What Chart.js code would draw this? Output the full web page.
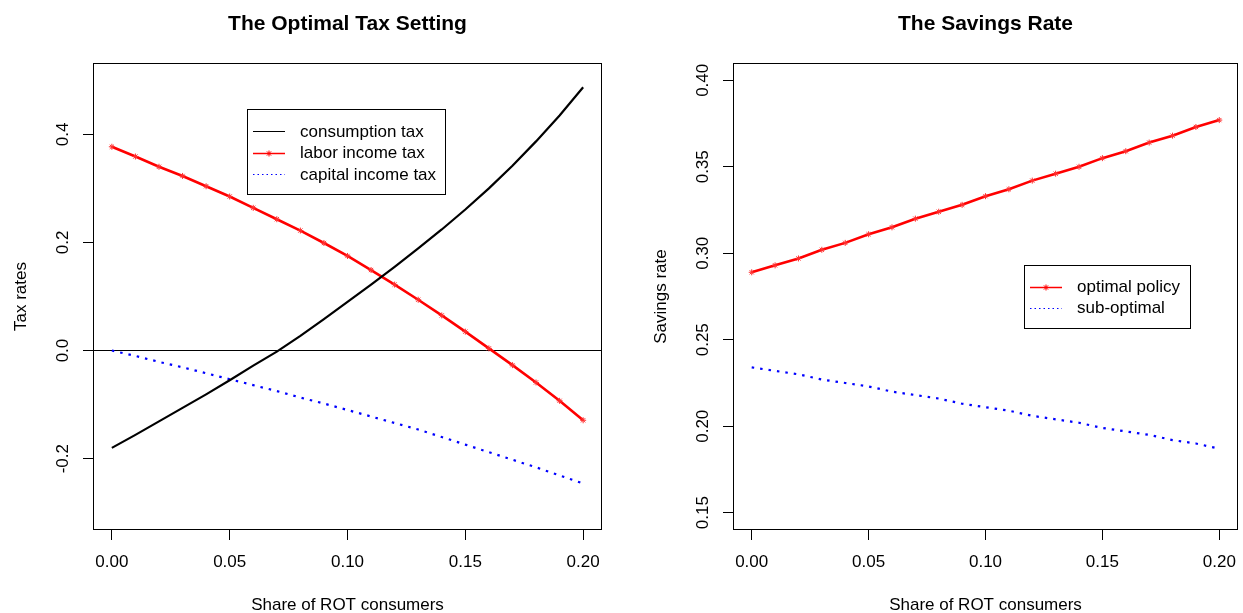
<!DOCTYPE html>
<html><head><meta charset="utf-8">
<script src="https://cdn.jsdelivr.net/npm/chart.js@4.4.1/dist/chart.umd.min.js"></script>
<style>
html,body{margin:0;padding:0;background:#fff;overflow:hidden}
#wrap{position:relative;width:1243px;height:613px;background:#fff}
canvas{position:absolute;top:0}
</style></head><body>
<div id="wrap">
<canvas id="c1" width="621" height="613" style="left:0"></canvas>
<canvas id="c2" width="622" height="613" style="left:621px"></canvas>
</div>
<script>
// ---- data ----
const shareROT = [0.00,0.01,0.02,0.03,0.04,0.05,0.06,0.07,0.08,0.09,0.10,0.11,0.12,0.13,0.14,0.15,0.16,0.17,0.18,0.19,0.20];
const consumptionTax = [-0.180,-0.156,-0.131,-0.106,-0.081,-0.055,-0.028,-0.002,0.027,0.058,0.090,0.122,0.155,0.189,0.224,0.261,0.300,0.342,0.387,0.435,0.487];
const laborIncomeTax = [0.377,0.359,0.340,0.323,0.304,0.285,0.264,0.243,0.222,0.199,0.175,0.149,0.122,0.094,0.065,0.035,0.004,-0.027,-0.059,-0.093,-0.129];
const capitalIncomeTax = [0.000,-0.010,-0.021,-0.031,-0.042,-0.053,-0.064,-0.075,-0.087,-0.098,-0.110,-0.122,-0.134,-0.146,-0.160,-0.174,-0.188,-0.202,-0.216,-0.231,-0.246];
const savingsOptimal = [0.289,0.293,0.297,0.302,0.306,0.311,0.315,0.320,0.324,0.328,0.333,0.337,0.342,0.346,0.350,0.355,0.359,0.364,0.368,0.373,0.377];
const savingsSubOptimal = [0.234,0.232,0.230,0.227,0.225,0.223,0.220,0.218,0.216,0.213,0.211,0.209,0.206,0.204,0.202,0.199,0.197,0.195,0.192,0.190,0.187];
const xTickValues = [0, 0.05, 0.10, 0.15, 0.20];
const xTickLabels = ['0.00','0.05','0.10','0.15','0.20'];
const taxTickValues = [-0.2, 0.0, 0.2, 0.4];
const taxTickLabels = ['-0.2','0.0','0.2','0.4'];
const savTickValues = [0.15, 0.20, 0.25, 0.30, 0.35, 0.40];
const savTickLabels = ['0.15','0.20','0.25','0.30','0.35','0.40'];

const FONT = "'Liberation Sans', Arial, Helvetica, sans-serif";
function pts(ys){ return shareROT.map((x,i)=>({x:x, y:ys[i]})); }

function makeChart(canvasId, cfg){
  const decor = {
    id: 'rDecor',
    afterDraw(chart){
      const ctx = chart.ctx, ca = chart.chartArea;
      ctx.save();
      // box
      ctx.strokeStyle = '#000'; ctx.lineWidth = 1;
      ctx.strokeRect(Math.round(ca.left)+0.5, Math.round(ca.top)+0.5, Math.round(ca.right-ca.left)-1, Math.round(ca.bottom-ca.top)-1);
      ctx.fillStyle = '#000';
      // y tick labels (rotated, R style)
      const ys = chart.scales.y;
      ctx.font = '17px ' + FONT;
      ctx.textAlign = 'center'; ctx.textBaseline = 'alphabetic';
      ys.ticks.forEach((t,i)=>{
        const py = ys.getPixelForValue(t.value);
        ctx.save(); ctx.translate(ca.left - 25, py); ctx.rotate(-Math.PI/2);
        ctx.fillText(cfg.yLabels[i], 0, 0); ctx.restore();
      });
      // y axis title
      ctx.save(); ctx.translate(ca.left - 67, (ca.top+ca.bottom)/2); ctx.rotate(-Math.PI/2);
      ctx.fillText(cfg.yTitle, 0, 0); ctx.restore();
      // x axis title
      ctx.fillText(cfg.xTitle, (ca.left+ca.right)/2, 610);
      // main title
      ctx.font = 'bold 21px ' + FONT;
      ctx.fillText(cfg.title, (ca.left+ca.right)/2, 30);
      // legend
      const L = cfg.legend;
      ctx.fillStyle = '#fff';
      ctx.fillRect(L.x, L.y, L.w, L.h);
      ctx.strokeStyle = '#000'; ctx.lineWidth = 1;
      ctx.strokeRect(L.x+0.5, L.y+0.5, L.w, L.h);
      ctx.font = '17px ' + FONT; ctx.textAlign = 'left'; ctx.textBaseline = 'middle';
      chart.data.datasets.forEach((ds,i)=>{
        const ry = L.y + L.first + i*L.step;
        ctx.save();
        ctx.strokeStyle = ds.borderColor; ctx.lineWidth = ds.legendWidth;
        ctx.setLineDash(ds.legendDash || []);
        ctx.beginPath(); ctx.moveTo(L.x+6, Math.round(ry)+0.5); ctx.lineTo(L.x+38, Math.round(ry)+0.5); ctx.stroke();
        ctx.setLineDash([]);
        if (ds.pointRadius > 0){
          const cx = L.x+22, cy = Math.round(ry)+0.5, r = 3;
          ctx.lineWidth = 1;
          ctx.beginPath();
          ctx.moveTo(cx-r,cy); ctx.lineTo(cx+r,cy); ctx.moveTo(cx,cy-r); ctx.lineTo(cx,cy+r);
          ctx.moveTo(cx-r*0.7,cy-r*0.7); ctx.lineTo(cx+r*0.7,cy+r*0.7); ctx.moveTo(cx-r*0.7,cy+r*0.7); ctx.lineTo(cx+r*0.7,cy-r*0.7);
          ctx.stroke();
        }
        ctx.restore();
        ctx.fillStyle = '#000';
        ctx.fillText(ds.label, L.x + 53, ry + 1);
      });
      ctx.restore();
    }
  };
  return new Chart(document.getElementById(canvasId), {
    type: 'line',
    data: { datasets: cfg.datasets },
    options: {
      responsive: false, animation: false, devicePixelRatio: 1,
      layout: { padding: { left: cfg.area.left - 50, top: 63, right: cfg.area.rightPad, bottom: 613 - 530 - 50 } },
      plugins: { legend: { display: false }, title: { display: false }, tooltip: { enabled: false } },
      elements: { line: { tension: 0 } },
      scales: {
        x: {
          type: 'linear', min: -0.008, max: 0.208,
          afterBuildTicks: s => { s.ticks = xTickValues.map(v => ({ value: v })); },
          afterFit: s => { s.height = 50; s.paddingLeft = 0; s.paddingRight = 0; },
          ticks: { callback: (v, i) => xTickLabels[i], font: { family: FONT, size: 17 }, color: '#000', padding: 12, maxRotation: 0, minRotation: 0, autoSkip: false },
          grid: { drawOnChartArea: false, drawTicks: true, tickLength: 10, tickColor: '#000', tickWidth: 1 },
          border: { display: false }
        },
        y: {
          type: 'linear', min: cfg.yMin, max: cfg.yMax,
          afterBuildTicks: s => { s.ticks = cfg.yTicks.map(v => ({ value: v })); },
          afterFit: s => { s.width = 50; s.paddingTop = 0; s.paddingBottom = 0; },
          ticks: { display: false },
          grid: {
            drawOnChartArea: cfg.zeroLine, drawTicks: true, tickLength: 10, tickColor: '#000', tickWidth: 1, lineWidth: 1,
            color: c => (c.tick && Math.abs(c.tick.value) < 1e-9) ? '#000' : 'rgba(0,0,0,0)'
          },
          border: { display: false }
        }
      }
    },
    plugins: [decor]
  });
}

makeChart('c1', {
  title: 'The Optimal Tax Setting', yTitle: 'Tax rates', xTitle: 'Share of ROT consumers',
  yMin: -0.332, yMax: 0.532, yTicks: taxTickValues, yLabels: taxTickLabels, zeroLine: true,
  area: { left: 93, rightPad: 19 },
  legend: { x: 247, y: 109, w: 198, h: 85, first: 22, step: 21.5 },
  datasets: [
    { label: 'consumption tax', data: pts(consumptionTax), borderColor: '#000000', borderWidth: 2.2, pointRadius: 0, legendWidth: 1 },
    { label: 'labor income tax', data: pts(laborIncomeTax), borderColor: '#FF0000', backgroundColor: '#FF0000', borderWidth: 2.6, pointStyle: 'star', pointRadius: 3, pointBorderWidth: 1, pointBorderColor: '#FF3030', legendWidth: 1.5 },
    { label: 'capital income tax', data: pts(capitalIncomeTax), borderColor: '#0000FF', borderWidth: 2.2, borderDash: [2.5, 6], pointRadius: 0, legendWidth: 1, legendDash: [1.5, 3] }
  ]
});

makeChart('c2', {
  title: 'The Savings Rate', yTitle: 'Savings rate', xTitle: 'Share of ROT consumers',
  yMin: 0.14, yMax: 0.41, yTicks: savTickValues, yLabels: savTickLabels, zeroLine: false,
  area: { left: 112, rightPad: 3 },
  legend: { x: 403, y: 265, w: 166, h: 63, first: 21.5, step: 21 },
  datasets: [
    { label: 'optimal policy', data: pts(savingsOptimal), borderColor: '#FF0000', backgroundColor: '#FF0000', borderWidth: 2.6, pointStyle: 'star', pointRadius: 3, pointBorderWidth: 1, pointBorderColor: '#FF3030', legendWidth: 1.5 },
    { label: 'sub-optimal', data: pts(savingsSubOptimal), borderColor: '#0000FF', borderWidth: 2.2, borderDash: [2.5, 6], pointRadius: 0, legendWidth: 1, legendDash: [1.5, 3] }
  ]
});
</script>
</body></html>
